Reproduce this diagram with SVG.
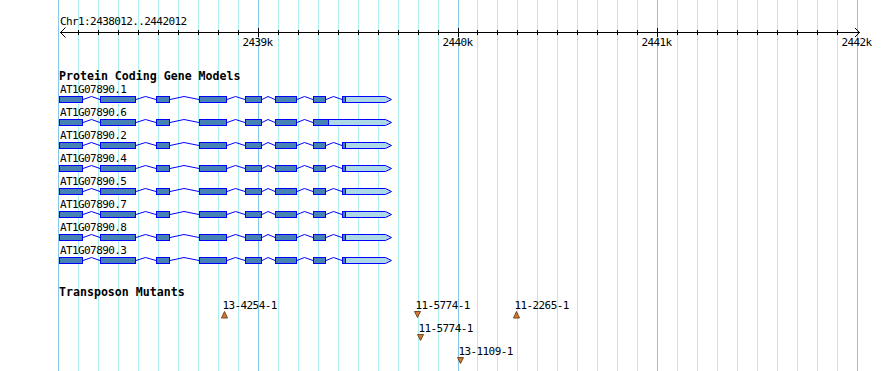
<svg xmlns="http://www.w3.org/2000/svg" xmlns:xlink="http://www.w3.org/1999/xlink" width="890" height="371" viewBox="0 0 890 371">
<style>
.t{font-family:"DejaVu Sans Mono","Liberation Mono",monospace;font-size:11px;letter-spacing:-0.6px;fill:#000}
.b{font-family:"DejaVu Sans Mono","Liberation Mono",monospace;font-size:11.6px;font-weight:bold;fill:#000}
.mid{text-anchor:middle}
.gm{stroke:#afeeee;stroke-width:1}
.gM{stroke:#87c8ea;stroke-width:1}
.ax{stroke:#000;stroke-width:1;fill:none}
.cds{fill:#4682b4;stroke:#0000ff;stroke-width:1}
.utr{fill:#add8e6;stroke:#0000ff;stroke-width:1}
.intr{fill:none;stroke:#0000ff;stroke-width:1}
.tri{fill:#cd7b35;stroke:#7a461a;stroke-width:1;stroke-linejoin:miter}
</style>
<defs>
<g id="introns">
<polyline class="intr" points="83,3.5 91.5,0.5 100,3.5"/>
<polyline class="intr" points="136,3.5 145.5,0.5 156,3.5"/>
<polyline class="intr" points="170,3.5 184,0.5 199,3.5"/>
<polyline class="intr" points="227,3.5 235.5,0.5 245,3.5"/>
<polyline class="intr" points="262,3.5 268,0.5 275,3.5"/>
<polyline class="intr" points="297,3.5 304.5,0.5 313,3.5"/>
</g>
<g id="exons">
<rect class="cds" x="59.5" y="0.5" width="23" height="6"/>
<rect class="cds" x="100.5" y="0.5" width="35" height="6"/>
<rect class="cds" x="156.5" y="0.5" width="13" height="6"/>
<rect class="cds" x="199.5" y="0.5" width="27" height="6"/>
<rect class="cds" x="245.5" y="0.5" width="16" height="6"/>
<rect class="cds" x="275.5" y="0.5" width="21" height="6"/>
</g>
<g id="tx">
<use xlink:href="#introns"/>
<polyline class="intr" points="326,3.5 333.5,0.5 342,3.5"/>
<use xlink:href="#exons"/>
<rect class="cds" x="313.5" y="0.5" width="12" height="6"/>
<path class="utr" d="M342.5,0.5 H385.5 L391.5,3.5 L385.5,6.5 H342.5 Z"/>
<rect class="cds" x="342.5" y="0.5" width="3" height="6"/>
</g>
<g id="tx6">
<use xlink:href="#introns"/>
<use xlink:href="#exons"/>
<path class="utr" d="M313.5,0.5 H385.5 L391.5,3.5 L385.5,6.5 H313.5 Z"/>
<rect class="cds" x="313.5" y="0.5" width="15" height="6"/>
</g>
</defs>
<rect x="0" y="0" width="890" height="371" fill="#fff"/>
<g id="grid">
<g class="gm">
<line x1="78.5" y1="0" x2="78.5" y2="371"/><line x1="98.5" y1="0" x2="98.5" y2="371"/><line x1="118.5" y1="0" x2="118.5" y2="371"/><line x1="138.5" y1="0" x2="138.5" y2="371"/><line x1="158.5" y1="0" x2="158.5" y2="371"/><line x1="178.5" y1="0" x2="178.5" y2="371"/><line x1="198.5" y1="0" x2="198.5" y2="371"/><line x1="218.5" y1="0" x2="218.5" y2="371"/><line x1="238.5" y1="0" x2="238.5" y2="371"/>
<line x1="278.5" y1="0" x2="278.5" y2="371"/><line x1="298.5" y1="0" x2="298.5" y2="371"/><line x1="318.5" y1="0" x2="318.5" y2="371"/><line x1="338.5" y1="0" x2="338.5" y2="371"/><line x1="358.5" y1="0" x2="358.5" y2="371"/><line x1="378.5" y1="0" x2="378.5" y2="371"/><line x1="398.5" y1="0" x2="398.5" y2="371"/><line x1="418.5" y1="0" x2="418.5" y2="371"/><line x1="438.5" y1="0" x2="438.5" y2="371"/>
<line x1="477.5" y1="0" x2="477.5" y2="371"/><line x1="497.5" y1="0" x2="497.5" y2="371"/><line x1="517.5" y1="0" x2="517.5" y2="371"/><line x1="537.5" y1="0" x2="537.5" y2="371"/><line x1="557.5" y1="0" x2="557.5" y2="371"/><line x1="577.5" y1="0" x2="577.5" y2="371"/><line x1="597.5" y1="0" x2="597.5" y2="371"/><line x1="617.5" y1="0" x2="617.5" y2="371"/><line x1="637.5" y1="0" x2="637.5" y2="371"/>
<line x1="677.5" y1="0" x2="677.5" y2="371"/><line x1="697.5" y1="0" x2="697.5" y2="371"/><line x1="717.5" y1="0" x2="717.5" y2="371"/><line x1="737.5" y1="0" x2="737.5" y2="371"/><line x1="757.5" y1="0" x2="757.5" y2="371"/><line x1="777.5" y1="0" x2="777.5" y2="371"/><line x1="797.5" y1="0" x2="797.5" y2="371"/><line x1="817.5" y1="0" x2="817.5" y2="371"/><line x1="837.5" y1="0" x2="837.5" y2="371"/>
</g>
<g class="gM">
<line x1="58.5" y1="0" x2="58.5" y2="371"/><line x1="258.5" y1="0" x2="258.5" y2="371"/><line x1="458.5" y1="0" x2="458.5" y2="371"/><line x1="657.5" y1="0" x2="657.5" y2="371"/><line x1="857.5" y1="0" x2="857.5" y2="371"/>
</g>
</g>
<g id="ruler">
<text class="t" x="60" y="25">Chr1:2438012..2442012</text>
<line class="ax" x1="60" y1="32.5" x2="860" y2="32.5"/>
<polyline class="ax" points="65.5,27.5 60.5,32.5 65.5,37.5"/>
<polyline class="ax" points="855,28 859.5,32.5 855,37"/>
<path class="ax" d="M78.5,30V35M98.5,30V35M118.5,30V35M138.5,30V35M158.5,30V35M178.5,30V35M198.5,30V35M218.5,30V35M238.5,30V35M278.5,30V35M298.5,30V35M318.5,30V35M338.5,30V35M358.5,30V35M378.5,30V35M398.5,30V35M418.5,30V35M438.5,30V35M477.5,30V35M497.5,30V35M517.5,30V35M537.5,30V35M557.5,30V35M577.5,30V35M597.5,30V35M617.5,30V35M637.5,30V35M677.5,30V35M697.5,30V35M717.5,30V35M737.5,30V35M757.5,30V35M777.5,30V35M797.5,30V35M817.5,30V35M837.5,30V35"/>
<path class="ax" d="M258.5,28V37M458.5,28V37M657.5,28V37"/>
<text class="t mid" x="257.5" y="46">2439k</text>
<text class="t mid" x="457.5" y="46">2440k</text>
<text class="t mid" x="656.5" y="46">2441k</text>
<text class="t mid" x="856.5" y="46">2442k</text>
</g>
<text class="b" x="59" y="80">Protein Coding Gene Models</text>
<g id="AT1G07890.1"><text class="t" x="60" y="93">AT1G07890.1</text><use xlink:href="#tx" y="96"/></g>
<g id="AT1G07890.6"><text class="t" x="60" y="116">AT1G07890.6</text><use xlink:href="#tx6" y="119"/></g>
<g id="AT1G07890.2"><text class="t" x="60" y="139">AT1G07890.2</text><use xlink:href="#tx" y="142"/></g>
<g id="AT1G07890.4"><text class="t" x="60" y="162">AT1G07890.4</text><use xlink:href="#tx" y="165"/></g>
<g id="AT1G07890.5"><text class="t" x="60" y="185">AT1G07890.5</text><use xlink:href="#tx" y="188"/></g>
<g id="AT1G07890.7"><text class="t" x="60" y="208">AT1G07890.7</text><use xlink:href="#tx" y="211"/></g>
<g id="AT1G07890.8"><text class="t" x="60" y="231">AT1G07890.8</text><use xlink:href="#tx" y="234"/></g>
<g id="AT1G07890.3"><text class="t" x="60" y="254">AT1G07890.3</text><use xlink:href="#tx" y="257"/></g>
<text class="b" x="59" y="296">Transposon Mutants</text>
<g id="m-13-4254-1"><text class="t" x="222.5" y="308.5">13-4254-1</text><polygon class="tri" points="224.5,311.5 227.5,318 221.5,318"/></g>
<g id="m-11-5774-1a"><text class="t" x="415.5" y="308.5">11-5774-1</text><polygon class="tri" points="414.5,311.5 420.5,311.5 417.5,317.5"/></g>
<g id="m-11-2265-1"><text class="t" x="514.5" y="308.5">11-2265-1</text><polygon class="tri" points="516.5,311.5 519.5,318 513.5,318"/></g>
<g id="m-11-5774-1b"><text class="t" x="418.5" y="331.5">11-5774-1</text><polygon class="tri" points="417.5,334.5 423.5,334.5 420.5,340.5"/></g>
<g id="m-13-1109-1"><text class="t" x="458.5" y="354.5">13-1109-1</text><polygon class="tri" points="457.5,357.5 463.5,357.5 460.5,363.5"/></g>
</svg>
